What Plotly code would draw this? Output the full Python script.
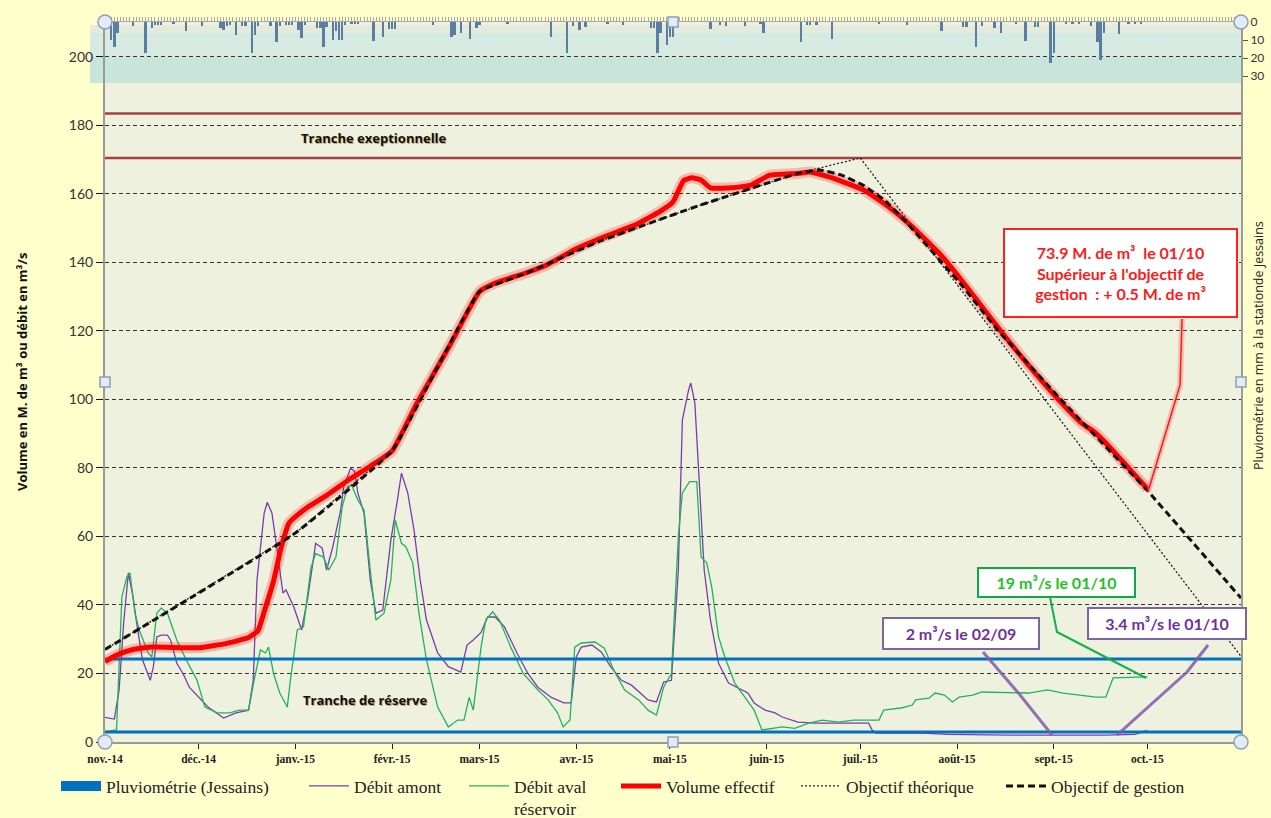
import pandas as pd
import plotly.graph_objects as go

# ---------------- data ----------------
BASE_DATE = "2014-11-01"
X_RANGE = ["2014-11-01", "2015-10-31"]

month_ticks = ["2014-11-01", "2014-12-01", "2015-01-01", "2015-02-01", "2015-03-01", "2015-04-01",
               "2015-05-01", "2015-06-01", "2015-07-01", "2015-08-01", "2015-09-01", "2015-10-01"]
month_labels = ["nov.-14", "déc.-14", "janv.-15", "févr.-15", "mars-15", "avr.-15",
                "mai-15", "juin-15", "juil.-15", "août-15", "sept.-15", "oct.-15"]

# Pluviométrie (Jessains), mm  -- days since 2014-11-01
pluvio_days = [2, 3, 4, 9, 13, 15, 16, 17, 18, 22, 26, 31, 37, 38, 39, 40, 42, 44, 45, 47, 48, 49, 53, 55,
               56, 58, 59, 60, 62, 63, 64, 68, 69, 70, 71, 73, 74, 75, 76, 77, 79, 80, 81, 86, 89, 91, 92,
               93, 105, 111, 112, 114, 117, 119, 120, 129, 143, 148, 150, 152, 154, 161, 166, 175, 176,
               177, 178, 180, 181, 182, 194, 197, 199, 205, 210, 211, 223, 225, 226, 228, 233, 248, 257,
               268, 275, 276, 279, 281, 285, 287, 292, 295, 298, 299, 303, 304, 308, 310, 312, 316, 318,
               319, 320, 325, 328, 330, 332]
pluvio_mm = [10, 13.7, 6.3, 2.2, 17.4, 3.5, 1.7, 1.7, 1.7, 1.1, 4.8, 2.2, 3.5, 4.4, 2.2, 1.7, 7.2, 2.2, 2.2,
             17, 7.2, 2.2, 2.2, 11.3, 2.2, 1.7, 1.7, 1.7, 4.4, 9.1, 1.7, 3.5, 3.5, 13.7, 2.6, 10, 5.2, 10,
             10, 1.7, 1.1, 1.1, 1.1, 10.4, 8.1, 4.1, 4.1, 4.1, 1.7, 8.1, 7.2, 6.3, 9.6, 3.5, 1.7, 1.1, 8.1,
             17, 2.2, 4.4, 2.6, 1.1, 1.7, 3.5, 3.5, 17.4, 6.3, 12.8, 8.1, 8.1, 4.1, 1.7, 2.2, 2.2, 1.1,
             6.3, 11.3, 1.7, 1.7, 1.7, 9.6, 1.1, 1.7, 4.8, 2.6, 2.6, 14.1, 2.2, 3.5, 5.9, 1.1, 10.4, 2.6,
             2.6, 22.9, 17.4, 1.1, 1.1, 1.1, 2.2, 10.9, 21.1, 6.3, 6.7, 1.1, 1.1, 1.1]

# Débit amont (m3/s)
amont_days = [0, 3, 4.5, 6, 7.5, 9, 10, 12, 14.5, 15.5, 16.6, 18, 20, 21, 23, 25, 27, 30, 33, 38, 42, 46,
              47.5, 48.7, 51, 52, 53.5, 55, 57, 58, 60.5, 63, 65, 67.5, 69.6, 71, 73, 75.5, 76.5, 78.7, 80,
              81, 83, 85, 86.8, 89, 91.6, 93.7, 95, 97, 99, 101, 103, 106.6, 110, 114, 116, 118, 120.5,
              122.6, 125, 128, 132, 135.5, 138.7, 143, 147, 149.4, 151, 152.6, 156, 159, 162, 165.5,
              168.7, 174, 176.7, 179, 181.5, 183.7, 185, 187, 187.7, 189, 190.6, 192, 194, 196.6, 199.8,
              203, 206, 208, 211.5, 214.7, 217, 222, 227.5, 244.7, 245.8, 247, 262, 270, 290, 320, 330, 334]
amont_vals = [7.2, 6.7, 15, 35, 49.4, 42.3, 35.6, 24, 18, 22, 30.7, 31.2, 31.2, 29.8, 23, 20, 16, 13, 10.2,
              7, 8.5, 9.3, 18, 47.3, 66.8, 70, 66.8, 57, 43.5, 44.4, 39.4, 32.7, 42.3, 58, 56.6, 50.2, 57,
              67.7, 74.5, 80, 79, 72.7, 66.8, 47.3, 37.6, 38.5, 59, 70.7, 78.5, 72.7, 62, 47.3, 35.6, 26,
              22, 20.4, 28.3, 29.8, 32, 36.5, 36.5, 33.6, 26, 20, 16, 13, 11.4, 11.4, 24.8, 27.7, 28.3,
              26.3, 22, 18, 16.6, 12.3, 11.7, 17.5, 18, 50.2, 94, 102.8, 104.8, 99, 74.5, 50.2, 35.6, 23,
              17.2, 15.8, 14.3, 11.4, 9.3, 8.5, 7.3, 5.8, 5.5, 5.5, 3.5, 2.6, 2.6, 2.2, 2, 2, 2.2, 3.4]

# Débit aval réservoir (m3/s)
aval_days = [0, 3.7, 5.4, 7, 8, 9.6, 11, 13.8, 15, 16.6, 18, 20, 23, 26, 29.5, 32, 36, 40, 43, 46, 47.6,
             49.8, 51.4, 52.4, 54, 56, 58.4, 59.4, 61.6, 63.6, 66, 67.5, 70, 71.7, 74, 76, 77.7, 79, 81,
             83, 85, 86.8, 89.4, 91.6, 93, 95, 96.4, 98.6, 100.6, 103, 106.6, 110, 113, 115, 116.7, 118,
             120.5, 122, 124.2, 126.4, 130, 134, 138.7, 142, 145, 146.8, 149, 150.5, 152.6, 157, 160,
             163, 166.5, 171, 174, 176.7, 179, 181.5, 183.7, 185, 187.3, 189.6, 191, 192.8, 194.4, 196.6,
             198.6, 201.8, 205, 208, 210.5, 214.7, 217, 221, 225.5, 229.8, 235, 240, 248, 249.5, 255.5,
             258.7, 259.7, 264, 266, 269, 271.5, 273.7, 278, 281, 290.8, 296, 302, 307, 317.5, 320.7,
             323, 334]
aval_vals = [3, 3.5, 42.3, 48.2, 49.4, 37.6, 32.7, 26, 24.8, 37.6, 39.1, 37.6, 29.8, 24, 18, 10.2, 8.5,
             8.5, 9.3, 9.3, 17.2, 26.9, 26, 27.7, 20, 14.3, 10.2, 18, 32.7, 33.6, 51, 55, 54, 50.2, 54,
             68.6, 74.5, 75, 70.7, 67.7, 50.2, 35.6, 37.6, 47.3, 64.8, 58, 57, 52.3, 37.6, 24, 10.2, 4.4,
             6.4, 6.4, 13, 9.3, 27.7, 35.6, 38, 35.6, 27.7, 20, 15.2, 12.3, 8.5, 4.4, 6.4, 27.7, 28.9,
             29.2, 27.4, 21, 15.2, 12.3, 9.3, 7.9, 16, 20, 60, 72.7, 76, 76, 54, 52.3, 45.3, 30.7, 24.8,
             17.2, 13.1, 9.3, 3.5, 4, 4.4, 4, 5.5, 6.4, 5.8, 6.4, 6.4, 9.3, 10, 10.8, 12.3, 12.8, 14.3,
             13.7, 11.7, 13.1, 13.7, 14.6, 14.3, 14.3, 15.2, 14.3, 13.1, 13.1, 18.7, 19]

# Volume effectif (M. de m3)
volume_days = [0, 4, 9, 15, 30, 39, 46, 49, 51, 54, 56.5, 59, 62, 65, 71, 78, 85, 92, 100, 110, 120, 125,
               135, 142, 151, 160, 170, 178, 182, 184, 185.5, 188, 191, 194, 201, 207, 213, 222, 226, 233,
               243, 250, 258, 268, 276, 287, 295, 307, 313, 317, 322, 334]
volume_vals = [23.5, 25.5, 27, 27.7, 27.5, 28.8, 30.5, 32.5, 38, 47, 57, 64, 66.5, 68.6, 72, 76.5, 80.5,
               85, 99, 115, 131.5, 134, 137, 139.5, 144, 147.5, 151, 155, 157.7, 161.5, 164, 164.7, 164.1,
               161.8, 161.8, 162.6, 165.5, 166, 166.4, 164.7, 161.2, 157, 151, 142, 133, 120, 111, 98.5,
               93, 90.5, 86, 73.9]

# Objectif théorique
theo_days = [0, 61, 92, 120, 134, 158, 190, 222, 242, 364]
theo_vals = [27, 61, 85, 131.5, 136.5, 146, 156.5, 166, 170.5, 25]

# Objectif de gestion
gestion_days = [0, 61, 92, 120, 134, 158, 190, 222, 229, 236, 243, 250, 257, 275, 286, 307, 334, 364]
gestion_vals = [27, 61, 85, 131.5, 136.5, 146, 156.5, 166, 167, 165.5, 162.5, 158, 151.5, 132.8, 120.3,
                99.3, 73.4, 42]

# Tranches
reserve_levels = [24.2, 2.9]
exceptionnelle_levels = [183.5, 170.5]


def to_dates(days):
    return pd.Timestamp(BASE_DATE) + pd.to_timedelta(days, unit="D")


# ---------------- figure ----------------
fig = go.Figure()

fig.add_trace(go.Bar(x=to_dates(pluvio_days), y=pluvio_mm, yaxis="y2",
                     marker=dict(color="#5a7ea2", line=dict(width=0)),
                     width=0.75 * 86400000, showlegend=False, name="Pluviométrie (Jessains)"))

fig.add_trace(go.Scatter(x=[None], y=[None], mode="lines", xaxis="x2",
                         line=dict(color="#0070c0", width=11),
                         name="Pluviométrie (Jessains)", legend="legend"))

fig.add_trace(go.Scatter(x=to_dates(amont_days), y=amont_vals, mode="lines",
                         line=dict(color="#7a3db0", width=1.3), name="Débit amont", legend="legend2"))
fig.add_trace(go.Scatter(x=to_dates(aval_days), y=aval_vals, mode="lines",
                         line=dict(color="#22b35a", width=1.3), name="Débit aval<br>réservoir",
                         legend="legend3"))

for lvl in reserve_levels:
    fig.add_trace(go.Scatter(x=X_RANGE, y=[lvl, lvl], mode="lines", line=dict(color="#0070c0", width=3),
                             showlegend=False, hoverinfo="skip"))
for lvl in exceptionnelle_levels:
    fig.add_trace(go.Scatter(x=X_RANGE, y=[lvl, lvl], mode="lines", line=dict(color="#a5413f", width=2.5),
                             showlegend=False, hoverinfo="skip"))

fig.add_trace(go.Scatter(x=to_dates(theo_days), y=theo_vals, mode="lines",
                         line=dict(color="#222222", width=1.3, dash="2px,2px"),
                         name="Objectif théorique", legend="legend5"))

fig.add_trace(go.Scatter(x=to_dates(volume_days), y=volume_vals, mode="lines",
                         line=dict(color="rgba(255,0,0,0.22)", width=11, shape="spline", smoothing=0.4),
                         showlegend=False, hoverinfo="skip"))
fig.add_trace(go.Scatter(x=to_dates(volume_days), y=volume_vals, mode="lines",
                         line=dict(color="#ff0000", width=5, shape="spline", smoothing=0.4),
                         name="Volume effectif", legend="legend4"))

fig.add_trace(go.Scatter(x=to_dates(gestion_days), y=gestion_vals, mode="lines",
                         line=dict(color="#111111", width=3, dash="7px,4px", shape="spline", smoothing=0.3),
                         name="Objectif de gestion", legend="legend6"))

# ---------------- layout ----------------
W, H = 1271, 818
L, R, T, B = 105, 30, 22, 76
PW, PH = W - L - R, H - T - B


def px(xp):
    return (xp - L) / PW


def py(yp):
    return (H - B - yp) / PH


shapes = []
# precipitation strip bands
for y_top, y_bot, col in [(25, 33, "#e4ebdc"), (33, 57, "#d6eae2"), (57, 83, "#c8e5dc")]:
    shapes.append(dict(type="rect", xref="paper", yref="paper", x0=px(90), x1=1, y0=py(y_bot), y1=py(y_top),
                       fillcolor=col, line=dict(width=0), layer="below"))


def path(points):
    return "M " + " L ".join(f"{px(a):.4f},{py(b):.4f}" for a, b in points)


# leader lines
red_leader = [(1182, 319), (1180, 385), (1148, 492)]
shapes.append(dict(type="path", xref="paper", yref="paper", path=path(red_leader),
                   line=dict(color="rgba(255,60,60,0.25)", width=6)))
shapes.append(dict(type="path", xref="paper", yref="paper", path=path(red_leader),
                   line=dict(color="#ff1a1a", width=1.5)))
shapes.append(dict(type="path", xref="paper", yref="paper",
                   path=path([(1050, 597), (1057, 632), (1146, 678)]),
                   line=dict(color="#14b04a", width=2)))
shapes.append(dict(type="path", xref="paper", yref="paper",
                   path=path([(983, 652), (1020, 695), (1052, 735)]),
                   line=dict(color="rgba(128,90,170,0.85)", width=3)))
shapes.append(dict(type="path", xref="paper", yref="paper",
                   path=path([(1208, 645), (1187, 672), (1117, 735)]),
                   line=dict(color="rgba(128,90,170,0.85)", width=3)))

# selection handles
for xa, ya, kind in [(0, 1, "circle"), (1, 1, "circle"), (0, 0, "circle"), (1, 0, "circle"),
                     (0.5, 1, "rect"), (0, 0.5, "rect"), (1, 0.5, "rect"), (0.5, 0, "rect")]:
    r = 7 if kind == "circle" else 5
    shapes.append(dict(type=kind, xref="paper", yref="paper", xsizemode="pixel", ysizemode="pixel",
                       xanchor=xa, yanchor=ya, x0=-r, x1=r, y0=-r, y1=r,
                       fillcolor="#e2ebf6", line=dict(color="#8e9fb6", width=1.5), layer="above"))

annotations = []


def note(text, xc, yc, **kw):
    d = dict(text=text, xref="paper", yref="paper", x=px(xc), y=py(yc), xanchor="center",
             yanchor="middle", showarrow=False)
    d.update(kw)
    annotations.append(d)


for txt, xc, yc in [("<b>Tranche exeptionnelle</b>", 374, 138), ("<b>Tranche de réserve</b>", 365, 700)]:
    note(txt, xc + 1, yc + 1, font=dict(family="Open Sans", size=13, color="rgba(190,120,40,0.6)"))
    note(txt, xc, yc, font=dict(family="Open Sans", size=13, color="#111111"))

boxes = [
    ("<b>73.9 M. de m³  le 01/10<br>Supérieur à l'objectif de<br>gestion  : + 0.5 M. de m³</b>",
     1120.5, 273, 229, 84, "#ff1a1a", "#ff2020"),
    ("<b>19 m³/s le 01/10</b>", 1056, 582, 153, 25, "#1fc21f", "#12a84a"),
    ("<b>2 m³/s le 02/09</b>", 961, 633.5, 152, 27, "#7030a0", "#8064a2"),
    ("<b>3.4 m³/s le 01/10</b>", 1166.5, 623, 154, 27, "#7030a0", "#8064a2"),
]
for txt, xc, yc, w, h, tcol, bcol in boxes:
    note(txt, xc, yc, width=w, height=h, align="center", valign="middle",
         bgcolor="#ffffff", bordercolor=bcol, borderwidth=2, borderpad=1,
         font=dict(family="Lato", size=16, color=tcol))

note("<b>Volume en M. de m³ ou débit en m³/s</b>", 22, 372, textangle=-90,
     font=dict(family="Open Sans", size=13, color="#111111"))
note("Pluviométrie en mm à la stationde Jessains", 1258, 345, textangle=-90,
     font=dict(family="Open Sans", size=12.5, color="#222222"))


def legend_at(x_symbol):
    return dict(orientation="h", xref="container", yref="container", x=(x_symbol - 4) / W, xanchor="left",
                y=(H - 768) / H, yanchor="top", bgcolor="rgba(0,0,0,0)", valign="top", itemwidth=40,
                font=dict(family="Liberation Serif", size=17.5, color="#222222"))


fig.update_layout(
    width=W, height=H,
    margin=dict(l=L, r=R, t=T, b=B, autoexpand=False),
    paper_bgcolor="#ffffcc", plot_bgcolor="#edf1dd",
    bargap=0, barmode="overlay",
    shapes=shapes, annotations=annotations,
    xaxis=dict(type="date", range=X_RANGE, tickvals=month_ticks, ticktext=month_labels,
               ticks="outside", ticklen=5, tickcolor="#222222", showline=True, linecolor="#9a9a9a",
               linewidth=2, showgrid=False, zeroline=False, automargin=False,
               tickfont=dict(family="Liberation Serif", size=11.5, color="#222222", weight="bold")),
    xaxis2=dict(type="date", overlaying="x", side="top", anchor="y", range=X_RANGE,
                dtick=86400000, tick0="2014-11-01", ticks="outside", ticklen=4, tickcolor="#a8a8a8",
                showticklabels=False, showline=True, linecolor="#a8a8a8", linewidth=1, showgrid=False,
                automargin=False),
    yaxis=dict(range=[0, 210.2], dtick=20, ticks="outside", ticklen=7, tickcolor="#111111",
               showline=True, linecolor="#9a9a9a", linewidth=2, zeroline=False, automargin=False,
               showgrid=True, gridcolor="#333333", gridwidth=1, griddash="4px,3px",
               tickfont=dict(family="Lato", size=14, color="#333333")),
    yaxis2=dict(overlaying="y", side="right", range=[400, 0], tickvals=[0, 10, 20, 30],
                ticks="outside", ticklen=5, tickcolor="#555555", showline=True, linecolor="#9a9a9a",
                linewidth=2, showgrid=False, zeroline=False, automargin=False,
                tickfont=dict(family="Lato", size=12, color="#333333")),
    legend=legend_at(60),
    legend2=legend_at(308),
    legend3=legend_at(468),
    legend4=legend_at(620),
    legend5=legend_at(800),
    legend6=legend_at(1005),
    showlegend=True,
)

fig.write_html("out.html", config={"displayModeBar": False},
               post_script="document.body.style.margin='0';")
